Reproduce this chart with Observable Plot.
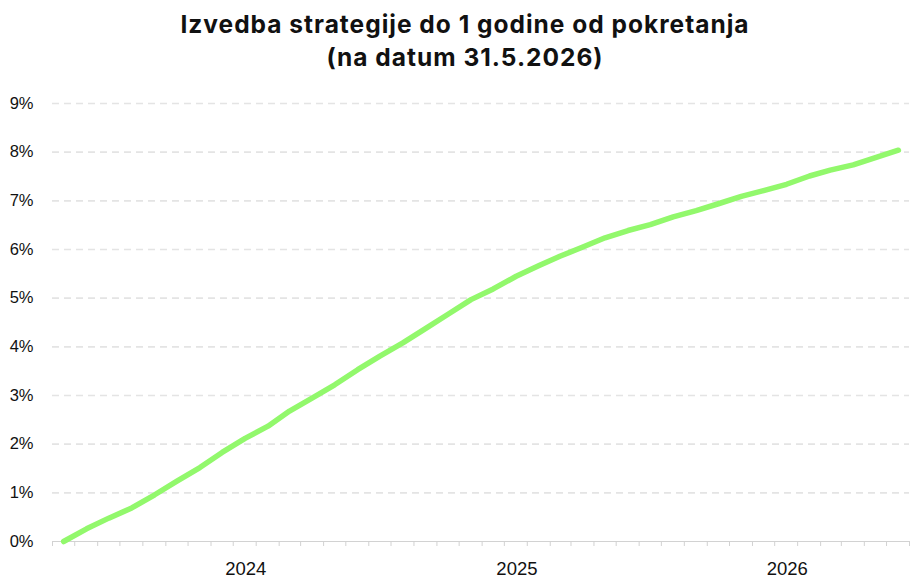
<!DOCTYPE html>
<html><head><meta charset="utf-8">
<script src="https://cdn.jsdelivr.net/npm/d3@7"></script>
<script src="https://cdn.jsdelivr.net/npm/@observablehq/plot@0.6"></script>
<style>
body{margin:0;background:#fff;font-family:Inter, "Noto Sans", sans-serif;}
#title{width:920px;height:88px;text-align:center;font-weight:700;font-size:24.5px;line-height:33px;color:#111;padding-top:8px;box-sizing:border-box;letter-spacing:1px;padding-left:10px}
#chart svg{display:block}
</style></head><body>
<div id="title">Izvedba strategije do 1 godine od pokretanja<br>(na datum 31.5.2026)</div>
<div id="chart"></div>
<script>
const dates = ["2023-04-30","2023-05-31","2023-06-30","2023-07-31","2023-08-31","2023-09-30","2023-10-31","2023-11-30","2023-12-31",
"2024-01-31","2024-02-29","2024-03-31","2024-04-30","2024-05-31","2024-06-30","2024-07-31","2024-08-31","2024-09-30","2024-10-31","2024-11-30","2024-12-31",
"2025-01-31","2025-02-28","2025-03-31","2025-04-30","2025-05-31","2025-06-30","2025-07-31","2025-08-31","2025-09-30","2025-10-31","2025-11-30","2025-12-31",
"2026-01-31","2026-02-28","2026-03-31","2026-04-30","2026-05-31"];
const values = [0.00,0.26,0.48,0.69,0.96,1.24,1.52,1.83,2.12,2.37,2.68,2.95,3.22,3.53,3.81,4.08,4.38,4.67,4.97,5.19,5.45,5.67,5.86,6.05,6.24,6.39,6.51,6.67,6.80,6.94,7.09,7.21,7.34,7.51,7.63,7.74,7.89,8.04];
const yTicks = [0,1,2,3,4,5,6,7,8,9];
const yearTicks = ["2024-01-01","2025-01-01","2026-01-01"];
const xDomain = ["2023-04-15","2026-06-15"];

const data = dates.map((d,i)=>({date:new Date(d), value:values[i]}));
const monthTicks = d3.utcMonth.range(new Date("2023-04-01"), new Date("2026-07-01")).map(d=>d3.utcDay.offset(d,14));

const chart = Plot.plot({
  width:920, height:498,
  marginLeft:52, marginRight:11, marginTop:15, marginBottom:45,
  style:{fontFamily:"'Liberation Sans', Arial, sans-serif", fontSize:"15px", color:"#111", background:"#fff"},
  x:{type:"utc", domain:xDomain.map(d=>new Date(d)), label:null},
  y:{domain:[0,9], label:null},
  marks:[
    Plot.gridY(yTicks.filter(d=>d>0), {stroke:"#e4e4e4", strokeOpacity:1, strokeWidth:1.6, strokeDasharray:"7,5"}),
    Plot.axisY(yTicks, {tickSize:0, tickPadding:19, tickFormat:d=>d+"%", fontSize:16.5, fill:"#111", label:null}),
    Plot.ruleY([0], {stroke:"#d2d2d2", strokeWidth:1.2}),
    Plot.axisX(monthTicks, {tickSize:5, stroke:"#d2d2d2", tickFormat:()=>"", label:null}),
    Plot.axisX(yearTicks.map(d=>new Date(d)), {tickSize:0, tickPadding:20, tickFormat:d3.utcFormat("%Y"), fontSize:18.5, fill:"#111", label:null}),
    Plot.lineY(data, {x:"date", y:"value", stroke:"#92f86c", strokeWidth:5.5, strokeLinecap:"round", strokeLinejoin:"round"})
  ]
});
document.getElementById("chart").append(chart);
</script>
</body></html>
